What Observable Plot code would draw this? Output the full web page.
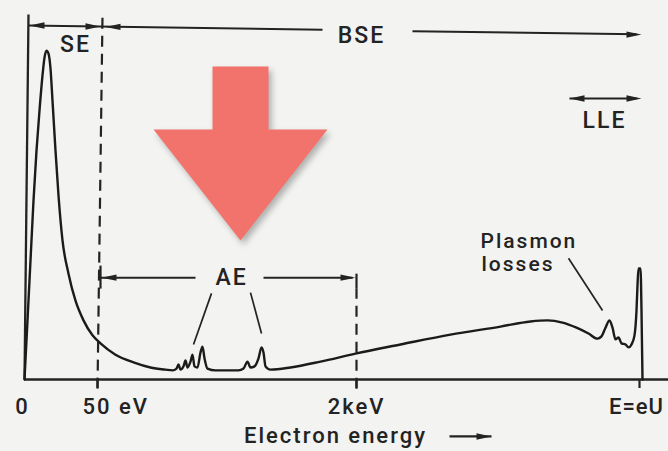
<!DOCTYPE html>
<html><head><meta charset="utf-8">
<script src="https://cdn.jsdelivr.net/npm/d3@7"></script>
<script src="https://cdn.jsdelivr.net/npm/@observablehq/plot@0.6"></script>
<style>
html,body{margin:0;padding:0;background:#f3f3f1;}
#chart svg{display:block;}
</style></head><body><div id="chart"></div>
<script>
// Spectrum: position along the (non-linear) energy axis, arbitrary units, and intensity (arb. units)
const energyPos = [0,3,6,9,12,15,18,20,22,24,26,28,31,34,38,44,51,59,68,76,91,109,126,141,148,152,154,156,159,161,163,166,168,170,173,176,178,180,183,191,214,219,223,226,230,234,237,239,241,246,266,296,331,376,426,476,506,523,538,552,564,573,577,581,585,588,591,594,597,601,604,607,610,612,613,614,616,617,618];
const intensity = [0,16.2,32.6,49,62.7,73.7,83.3,88.2,90.1,89.3,85.2,76.4,62.7,50.4,38.1,29.0,21.6,16.2,12.1,9.9,6.8,4.7,3.3,2.7,2.5,3.0,4.1,2.7,3.6,5.2,3.3,4.9,6.8,3.6,3.3,7.4,9.0,5.8,3.0,2.5,2.5,3.0,4.9,3.3,3.6,5.8,8.8,7.4,3.6,2.7,3.3,4.9,7.1,9.6,12.3,14.5,15.9,16.2,15.6,14.2,12.6,11.2,11.8,14.2,16.2,14.2,11.0,11.5,9.9,9.6,8.8,9.6,12.1,18.9,25.8,30.4,30.4,18.9,0];

// Axis ticks
const tickPos = [73, 332, 615];
const tickLabelPos = [-2, 332, 612];
const tickLabels = ["0", "2keV", "E=eU"];
const eVLabelPos = [73];
const eVLabel = ["50 eV"];
const axisTitle = "Electron energy";

// Region annotations
const regionNames = ["SE", "BSE", "LLE", "AE"];
const regionX = [51, 337, 580, 207];
const regionV = [91.8, 94.2, 71, 27.9];
const spanX1 = [4, 388, 545, 76, 239];
const spanV1 = [97.0, 95.4, 77, 27.9, 27.9];
const spanX2 = [298, 612, 612, 171, 328];
const spanV2 = [95.8, 94.6, 77, 27.9, 27.9];
const rightHeadX = [76, 617, 617, 331];
const rightHeadV = [96.7, 94.5, 77, 27.9];
const leftHeadX = [5, 81, 545, 77];
const leftHeadV = [97.0, 96.6, 77, 27.9];
const barX = [76, 332];
const barV1 = [31.2, 29.0];
const barV2 = [24.9, 24.9];
const dashX1 = [73, 332];
const dashV1 = [-2.5, -2.5];
const dashX2 = [78, 332];
const dashV2 = [99.5, 24.9];
const leaderX1 = [187, 226, 544];
const leaderV1 = [23.6, 23.8, 33.2];
const leaderX2 = [169, 237, 578];
const leaderV2 = [9.6, 12.6, 18.9];
const plasmonLines = ["Plasmon", "losses"];
const plasmonX = [456, 457];
const plasmonV = [37.8, 31.5];
const titleArrowX = [425, 467];
const titleArrowV = -15.6;

// Red pointer arrow outline
const pointerX = [188, 244, 244, 303, 216, 129, 188];
const pointerV = [85.75, 85.75, 68.5, 68.5, 38.1, 68.5, 68.5];

const spectrum = energyPos.map((x, i) => ({x, v: intensity[i]}));
const spans = spanX1.map((x1, i) => ({x1, v1: spanV1[i], x2: spanX2[i], v2: spanV2[i]}));
const rightHeads = rightHeadX.map((x, i) => ({x, v: rightHeadV[i]})).concat([{x: titleArrowX[1], v: titleArrowV}]);
const leftHeads = leftHeadX.map((x, i) => ({x, v: leftHeadV[i]}));
const bars = barX.map((x, i) => ({x, v1: barV1[i], v2: barV2[i]}));
const dashes = dashX1.map((x1, i) => ({x1, v1: dashV1[i], x2: dashX2[i], v2: dashV2[i]}));
const leaders = leaderX1.map((x1, i) => ({x1, v1: leaderV1[i], x2: leaderX2[i], v2: leaderV2[i]}));
const regions = regionNames.map((t, i) => ({t, x: regionX[i], v: regionV[i]}));
const plasmon = plasmonLines.map((t, i) => ({t, x: plasmonX[i], v: plasmonV[i]}));
const pointer = pointerX.map((x, i) => ({x, v: pointerV[i]}));
const ticksLab = tickLabelPos.map((x, i) => ({x, t: tickLabels[i]}));
const eVLab = eVLabelPos.map((x, i) => ({x, t: eVLabel[i]}));

const ink = "#232323";
const head = {
  draw(ctx, size) {
    const k = Math.sqrt(size) / 10;
    ctx.moveTo(0, 0);
    ctx.lineTo(-15 * k, -3.2 * k);
    ctx.lineTo(-15 * k, 3.2 * k);
    ctx.closePath();
  }
};

const chart = Plot.plot({
  width: 668, height: 451,
  marginLeft: 24, marginRight: 0, marginTop: 14, marginBottom: 72,
  x: {domain: [0, 644], axis: null},
  y: {domain: [0, 100], axis: null},
  style: "background:#f3f3f1; font-family:Roboto, 'Liberation Sans', Arial, sans-serif; font-weight:500; letter-spacing:2px; color:#232323;",
  marks: [
    Plot.line(pointer, {x: "x", y: "v", fill: "#f2736b", stroke: "none", curve: "linear-closed"}),
    Plot.ruleY([0], {stroke: ink, strokeWidth: 2.3}),
    Plot.link([{x1: 0, v1: 0, x2: 4, v2: 100}], {x1: "x1", y1: "v1", x2: "x2", y2: "v2", stroke: ink, strokeWidth: 2.3}),
    Plot.axisX(tickPos, {tickSize: 9, tickFormat: () => "", stroke: ink, strokeWidth: 2.2}),
    Plot.link(dashes, {x1: "x1", y1: "v1", x2: "x2", y2: "v2", stroke: ink, strokeWidth: 2.2, strokeDasharray: "11,7"}),
    Plot.link(bars, {x1: "x", y1: "v1", x2: "x", y2: "v2", stroke: ink, strokeWidth: 2.2}),
    Plot.link(spans, {x1: "x1", y1: "v1", x2: "x2", y2: "v2", stroke: ink, strokeWidth: 2}),
    Plot.link(leaders, {x1: "x1", y1: "v1", x2: "x2", y2: "v2", stroke: ink, strokeWidth: 1.7}),
    Plot.link([{x1: titleArrowX[0], x2: titleArrowX[1]}], {x1: "x1", x2: "x2", y1: () => titleArrowV, y2: () => titleArrowV, stroke: ink, strokeWidth: 2.2}),
    Plot.dot(rightHeads, {x: "x", y: "v", symbol: head, r: 5.64, fill: ink, stroke: "none"}),
    Plot.dot(leftHeads, {x: "x", y: "v", symbol: head, r: 5.64, fill: ink, stroke: "none", rotate: 180}),
    Plot.line(spectrum, {x: "x", y: "v", curve: "monotone-x", stroke: "#1b1b1b", strokeWidth: 2.4}),
    Plot.text(regions, {x: "x", y: "v", text: "t", fontSize: 23, fill: ink}),
    Plot.text(plasmon, {x: "x", y: "v", text: "t", fontSize: 21, fill: ink, textAnchor: "start"}),
    Plot.text(ticksLab, {x: "x", text: "t", frameAnchor: "bottom", dy: 34, fontSize: 22, fill: ink}),
    Plot.text(eVLab, {x: "x", text: "t", frameAnchor: "bottom", dy: 34, dx: -15, fontSize: 22, fill: ink, textAnchor: "start"}),
    Plot.text([axisTitle], {x: () => 311, text: d => d, frameAnchor: "bottom", dy: 63, fontSize: 22, fill: ink})
  ]
});
chart.querySelectorAll('[fill="#f2736b"]').forEach(el => el.style.filter = "drop-shadow(3px 4px 3px rgba(0,0,0,0.28))");
chart.querySelectorAll("text").forEach(el => { if (el.textContent === "E=eU") el.style.letterSpacing = "1px"; });
document.getElementById("chart").appendChild(chart);
</script></body></html>
